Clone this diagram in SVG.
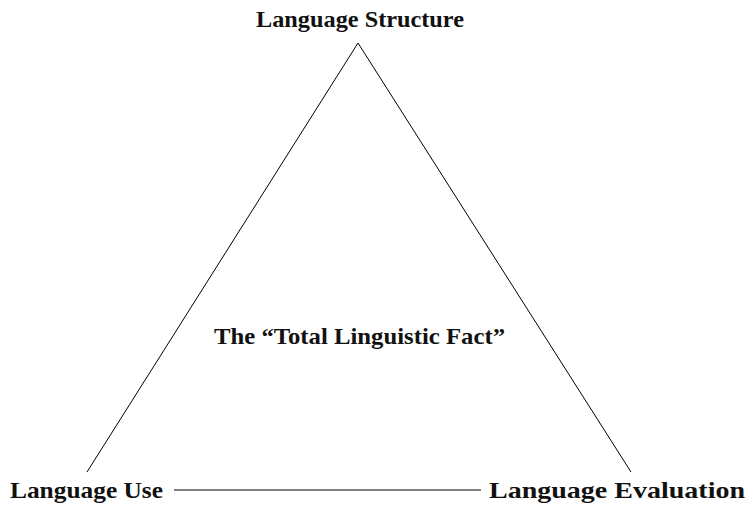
<svg xmlns="http://www.w3.org/2000/svg" width="749" height="508" viewBox="0 0 749 508">
<style>
text { font-family: "Liberation Serif", "DejaVu Serif", serif; font-weight: bold; font-size: 23px; fill: #111; }
.edge { stroke: #000; stroke-width: 1; fill: none; }
</style>
<rect width="749" height="508" fill="#fff"/>
<g id="connectors">
<line class="edge" x1="358" y1="43" x2="87" y2="472"/>
<line class="edge" x1="358" y1="43" x2="631" y2="472"/>
<line class="edge" x1="174" y1="490" x2="481" y2="490"/>
</g>
<g id="node-structure"><text x="256" y="27" textLength="208" lengthAdjust="spacingAndGlyphs">Language Structure</text></g>
<g id="node-use"><text x="10" y="498" textLength="153" lengthAdjust="spacingAndGlyphs">Language Use</text></g>
<g id="node-evaluation"><text x="489" y="498" textLength="256" lengthAdjust="spacingAndGlyphs">Language Evaluation</text></g>
<g id="node-center"><text x="214" y="344" textLength="291" lengthAdjust="spacingAndGlyphs">The “Total Linguistic Fact”</text></g>
</svg>
